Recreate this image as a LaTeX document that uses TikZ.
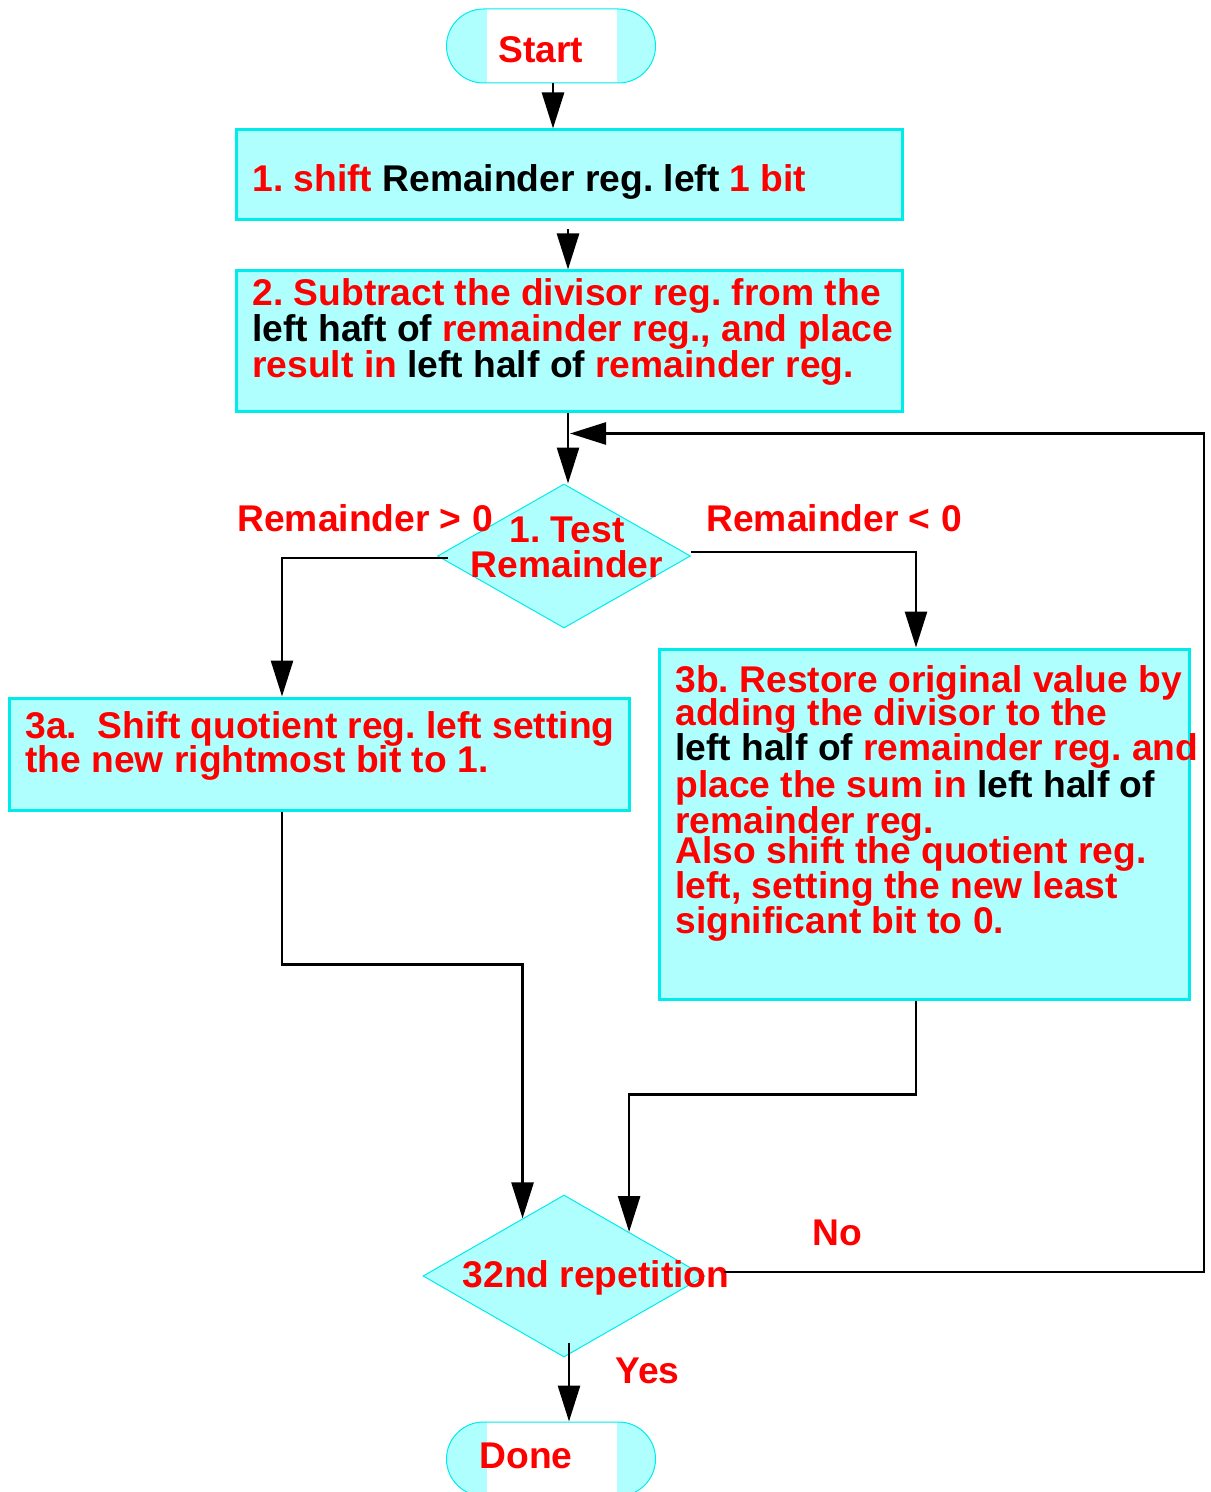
\documentclass[tikz,border=0pt]{standalone}
\usepackage{fontspec}
\setmainfont{Liberation Sans}
\usetikzlibrary{arrows.meta,shapes.geometric,calc}
\definecolor{boxfill}{HTML}{AFFFFF}
\definecolor{boxline}{HTML}{00ECEC}
\definecolor{txtred}{HTML}{FF0000}
\begin{document}
\frenchspacing
\begin{tikzpicture}[x=0.5pt,y=-0.5pt,
  every node/.style={font=\bfseries\fontsize{18.6}{17.5}\selectfont},
  proc/.style={rectangle, fill=boxfill, draw=boxline, line width=1.5pt, inner sep=0pt},
  term/.style={rectangle, rounded corners=18.5pt, fill=boxfill, draw=boxline,
    line width=0.5pt, minimum width=104.5pt, minimum height=37pt, inner sep=0pt,
    path picture={\fill[white, sharp corners] ([xshift=20pt]path picture bounding box.north west)
      rectangle ([xshift=-19.5pt]path picture bounding box.south east);}},
  decide/.style={diamond, fill=boxfill, draw=boxline, line width=0.5pt, inner sep=0pt},
  % multi-line texts are placed by the baseline of their last line
  txt/.style={inner sep=0pt, anchor=base west, align=left, text=txtred},
  ctxt/.style={inner sep=0pt, anchor=base, align=center, text=txtred},
  flow/.style={draw=black, line width=1.35pt, -{Triangle[length=18pt,width=11pt]}},
]
\path[use as bounding box] (0,0) rectangle (1210,1492);

% terminals
\node[term] (start) at (551,46) {};
\node[ctxt] (starttxt) at (541,63) {Start};
\node[term] (done) at (551,1459) {};
\node[ctxt] (donetxt) at (526,1468) {Done};

% process boxes
\node[proc, minimum width=333pt, minimum height=45pt] (box1) at (569,175) {};
\node[txt] (box1txt) at (252,192) {1. shift \textcolor{black}{Remainder reg. left} 1 bit};

\node[proc, minimum width=333pt, minimum height=70pt] (box2) at (569,341) {};
\node[txt] (box2txt) at (252,378) {2. Subtract the divisor reg. from the\\[0.75pt]
  \textcolor{black}{left haft of} remainder reg., and place\\[0.5pt]
  result in \textcolor{black}{left half of} remainder reg.};

\node[proc, minimum width=310pt, minimum height=56pt] (box3a) at (319,754) {};
\node[txt] (box3atxt) at (25,772) {3a.\ \ Shift quotient reg. left setting\\[-0.5pt]
  the new rightmost bit to 1.};

\node[proc, minimum width=265pt, minimum height=175pt] (box3b) at (924,824) {};

% decisions
\node[decide, minimum width=126.5pt, minimum height=72pt] (d1) at (564,556) {};
\node[ctxt] (d1txt) at (567,577) {1. Test\\Remainder};
\node[decide, minimum width=141pt, minimum height=81pt] (d2) at (564,1276) {};

% connectors
\coordinate (merge) at ($([xshift=-0.5pt]box2.south)+(0,21)$);
\coordinate (loopcorner) at (1204,1272);

\draw[flow] ([xshift=1pt]start.south) -- ([xshift=1pt]start.south |- box1.north);
\draw[flow] ([xshift=-0.5pt,yshift=-4pt]box1.south) -- ([xshift=-0.5pt]box1.south |- box2.north);
\draw[flow] ([xshift=-0.5pt]box2.south) -- ([xshift=-0.5pt]box2.south |- d1.north);
\draw[flow] ([xshift=5.5pt,yshift=-1pt]d1.west) -| ([xshift=-18.5pt]box3a.north);
\draw[flow] ([yshift=2pt]d1.east) -| ([xshift=-4pt]box3b.north);
\draw[flow] ([xshift=-18.5pt]box3a.south) -- ++(0,153) -| ($(d2.north)!0.293!(d2.west)$);
\draw[flow] ([xshift=-4pt]box3b.south) -- ++(0,94) -| ($(d2.north)!0.46!(d2.east)$);
\draw[flow] ([xshift=2.5pt,yshift=7.5pt]d2.south) -- ([xshift=2.5pt]d2.south |- done.north);

% text drawn over the shapes
\node[txt] (box3btxt) at (675,933) {3b. Restore original value by\\[-1pt]
  adding the divisor to the\\
  \textcolor{black}{left half of} remainder reg. and\\[1pt]
  place the sum in \textcolor{black}{left half of}\\[0.5pt]
  remainder reg.\\[-2.5pt]
  Also shift the quotient reg.\\
  left, setting the new least\\
  significant bit to 0.};
\node[txt] (gtlab) at (237,531) {Remainder > 0};
\node[txt] (ltlab) at (706,531) {Remainder < 0};
\node[ctxt] (d2txt) at (596,1287) {32nd repetition};
\node[txt] (nolab) at (812,1245) {No};
\node[txt] (yeslab) at (615,1383) {Yes};

\draw[flow] ([xshift=-3pt]d2txt.east |- loopcorner) -- (loopcorner) |- ([xshift=1pt]merge);
\end{tikzpicture}
\end{document}
